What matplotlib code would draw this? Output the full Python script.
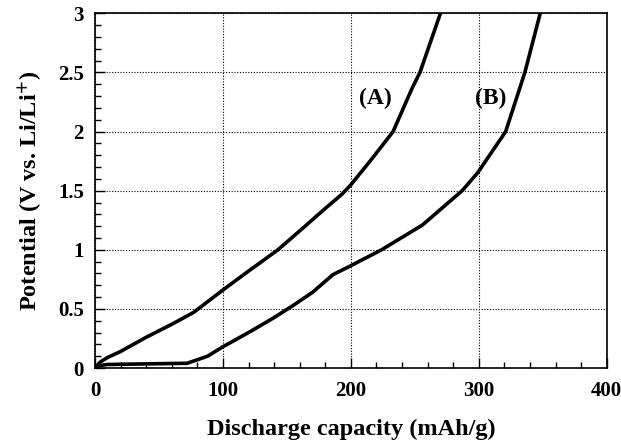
import numpy as np
import matplotlib
matplotlib.use("Agg")
import matplotlib.pyplot as plt
from matplotlib.ticker import MultipleLocator, FuncFormatter

# discharge curves
cap_a = [0, 4, 10, 20, 40, 60, 77, 100, 120, 129, 143, 160, 180, 193, 200, 215, 233, 248, 254, 270]
pot_a = [0, 0.05, 0.09, 0.14, 0.26, 0.37, 0.47, 0.66, 0.82, 0.89, 1.0, 1.16, 1.35, 1.47, 1.55, 1.75, 2.0, 2.37, 2.5, 3.0]

cap_b = [0, 3, 10, 40, 72, 88, 100, 120, 139, 155, 170, 186, 199, 224, 256, 287, 299, 321, 336, 348]
pot_b = [0, 0.02, 0.03, 0.035, 0.04, 0.1, 0.18, 0.3, 0.42, 0.53, 0.64, 0.79, 0.86, 1.0, 1.21, 1.5, 1.65, 2.0, 2.5, 3.0]

labels = [("(A)", 219, 2.28), ("(B)", 309, 2.28)]

plt.rcParams["font.family"] = ["Liberation Serif", "DejaVu Serif"]
plt.rcParams["font.weight"] = "bold"
plt.rcParams["mathtext.fontset"] = "stix"

fig = plt.figure(figsize=(6.21, 4.40), dpi=100)
ax = fig.add_axes([0.153, 0.1636, 0.824, 0.806])

ax.plot(cap_a, pot_a, color="black", lw=2.6, solid_joinstyle="round")
ax.plot(cap_b, pot_b, color="black", lw=2.6, solid_joinstyle="round")

for txt, x, y in labels:
    ax.text(x, y, txt, fontsize=17, fontweight="bold", ha="center", va="center")

ax.set_xlim(0, 400)
ax.set_ylim(0, 3)
ax.xaxis.set_major_locator(MultipleLocator(100))
ax.xaxis.set_minor_locator(MultipleLocator(20))
ax.yaxis.set_major_locator(MultipleLocator(0.5))
ax.yaxis.set_minor_locator(MultipleLocator(0.1))
ax.yaxis.set_major_formatter(FuncFormatter(lambda v, p: f"{v:g}"))

ax.tick_params(which="major", direction="in", length=7, width=1, labelsize=15, pad=9)
ax.tick_params(axis="y", which="major", pad=8)
ax.tick_params(which="minor", direction="in", length=4, width=1)
for lab in ax.get_xticklabels() + ax.get_yticklabels():
    lab.set_fontweight("bold")

ax.grid(True, which="major", color="black", linestyle=(0, (1, 1.5)), linewidth=0.8)
for s in ax.spines.values():
    s.set_linewidth(1.2)

ax.set_xlabel("Discharge capacity (mAh/g)", fontsize=17.5, fontweight="bold", labelpad=13)
ax.set_ylabel(r"Potential (V vs. Li/Li$^{\mathbf{+}}$)", fontsize=17.5, fontweight="bold", labelpad=10)

fig.savefig("out.png", dpi=100)
